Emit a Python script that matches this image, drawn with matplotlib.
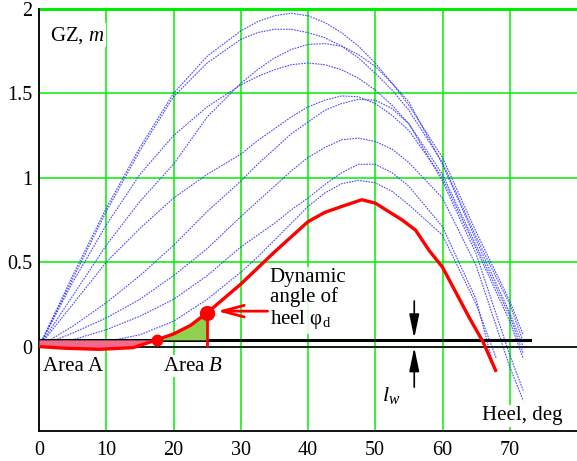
import matplotlib
matplotlib.use("Agg")
import matplotlib.pyplot as plt

plt.rcParams['font.family'] = ['Liberation Serif', 'DejaVu Serif']
plt.rcParams['mathtext.fontset'] = 'custom'
plt.rcParams['mathtext.rm'] = 'Liberation Serif'
plt.rcParams['mathtext.it'] = 'Liberation Serif:italic'
plt.rcParams['mathtext.bf'] = 'Liberation Serif:bold'

# GZ curves for the other loading conditions (blue, dotted)
blue_heel = [0, 5, 10, 15, 20, 25, 30, 32.5, 35, 37.5, 40, 42.5, 45, 47.5, 50, 52.5, 55, 60, 65]
blue_gz = [
    [0, 0.42, 0.82, 1.18, 1.50, 1.72, 1.87, 1.925, 1.96, 1.975, 1.96, 1.92, 1.86, 1.78, 1.68, 1.56, 1.43, 1.12, 0.68],
    [0, 0.40, 0.80, 1.16, 1.48, 1.68, 1.82, 1.86, 1.88, 1.88, 1.86, 1.83, 1.78, 1.71, 1.62, 1.52, 1.40, 1.09, 0.65],
    [0, 0.30, 0.60, 0.86, 1.08, 1.36, 1.56, 1.64, 1.71, 1.76, 1.79, 1.795, 1.78, 1.73, 1.66, 1.56, 1.45, 1.08, 0.63],
    [0, 0.38, 0.72, 1.02, 1.25, 1.42, 1.55, 1.60, 1.64, 1.67, 1.68, 1.67, 1.64, 1.59, 1.52, 1.43, 1.32, 1.02, 0.60],
    [0, 0.25, 0.50, 0.70, 0.88, 1.02, 1.14, 1.22, 1.29, 1.36, 1.42, 1.46, 1.485, 1.48, 1.44, 1.37, 1.28, 1.00, 0.58],
    [0, 0.12, 0.26, 0.42, 0.60, 0.80, 0.98, 1.08, 1.17, 1.26, 1.33, 1.40, 1.44, 1.465, 1.46, 1.41, 1.32, 0.98, 0.55],
    [0, 0.08, 0.17, 0.28, 0.42, 0.58, 0.77, 0.86, 0.95, 1.04, 1.12, 1.18, 1.225, 1.235, 1.215, 1.17, 1.09, 0.88, 0.48],
    [0, 0.04, 0.10, 0.18, 0.28, 0.42, 0.59, 0.66, 0.73, 0.81, 0.88, 0.96, 1.03, 1.08, 1.08, 1.03, 0.95, 0.71, 0.28],
    [0, 0.01, 0.03, 0.07, 0.15, 0.28, 0.44, 0.53, 0.63, 0.73, 0.83, 0.91, 0.965, 0.985, 0.97, 0.92, 0.84, 0.66, 0.25],
]
blue_tail_heel = [[70, 72], [70, 72], [70, 72], [70, 72], [70, 72],
                  [70, 72], [70, 72], [67.5], [68]]
blue_tail_gz = [[0.27, 0.07], [0.25, 0.03], [0.20, 0.0], [0.18, -0.04], [0.15, -0.07],
                [-0.05, -0.26], [-0.12, -0.32], [-0.10], [-0.07]]

# GZ curve of the case under study (red)
red_heel = [0, 4, 9, 14, 17.5, 20, 22.5, 25, 30, 35, 37.5, 40, 42.5, 45, 48, 50, 54, 56, 58,
            60, 64, 66, 68]
red_gz = [0, -0.01, -0.016, -0.006, 0.04, 0.075, 0.125, 0.2, 0.37, 0.56, 0.65, 0.74, 0.795,
          0.83, 0.87, 0.85, 0.75, 0.69, 0.57, 0.47, 0.17, 0.03, -0.15]

lw_level = 0.04      # heeling arm
lw_end = 73
phi_start = 17.5     # start of area B
phi_dyn = 25         # dynamic angle of heel

x_ticks = [0, 10, 20, 30, 40, 50, 60, 70]
y_ticks = [0, 0.5, 1, 1.5, 2]
y_tick_labels = ['0', '0.5', '1', '1.5', '2']

grid_green = '#00ee00'

fig = plt.figure(figsize=(5.77, 4.61), dpi=100)
ax = fig.add_axes([39 / 577, 30 / 461, 538 / 577, 422 / 461])
ax.set_xlim(0, 80)
ax.set_ylim(-0.5, 2)

ax.set_xticks(x_ticks)
ax.set_yticks(y_ticks)
ax.set_yticklabels(y_tick_labels)
ax.tick_params(length=0, labelsize=14.5)
ax.tick_params(axis='x', pad=7)
ax.tick_params(axis='y', pad=5)
ax.grid(True, color=grid_green, lw=1.1)
for side in ['top', 'right']:
    ax.spines[side].set_visible(False)
for side in ['left', 'bottom']:
    ax.spines[side].set_linewidth(1.3)
ax.axhline(2, color=grid_green, lw=2.2, clip_on=False, zorder=1.6)

# blue family
for gz, th, tg in zip(blue_gz, blue_tail_heel, blue_tail_gz):
    ax.plot(blue_heel + th, gz + tg, color='#2a2aff', lw=0.8,
            ls=(0, (1.5, 1)), alpha=0.85, zorder=2)

# zero and heeling arm lines
ax.axhline(0, color='#111111', lw=1.3, zorder=3)
ax.plot([0, lw_end], [lw_level, lw_level], color='black', lw=2.2, zorder=3)

# areas A and B
iA = red_heel.index(phi_start)
iB = red_heel.index(phi_dyn)
ax.fill_between(red_heel[:iA + 1], red_gz[:iA + 1], lw_level,
                color='#f06a8a', lw=0, zorder=3.5)
ax.fill_between(red_heel[iA:iB + 1], red_gz[iA:iB + 1], lw_level,
                color='#8fd14f', lw=0, zorder=3.5)

ax.plot(red_heel, red_gz, color='red', lw=2.4, zorder=4, solid_capstyle='butt')
ax.vlines(phi_dyn, 0, red_gz[iB], color='red', lw=2, zorder=4)
ax.plot([red_heel[iA]], [red_gz[iA]], 'o', color='red', ms=7.5, zorder=5)
ax.plot([red_heel[iB]], [red_gz[iB]], 'o', color='red', ms=10, zorder=5)

# texts
white = dict(facecolor='white', edgecolor='none', pad=1)
ax.text(1.7, 1.845, 'GZ, $m$', fontsize=15, va='center', bbox=white, zorder=6)
ax.text(0.65, -0.12, 'Area A', fontsize=15, va='center', bbox=white, zorder=6)
ax.text(18.5, -0.115, 'Area $B$', fontsize=15, va='center', bbox=white, zorder=6)
ax.text(65.8, -0.41, 'Heel, deg', fontsize=15, va='center', bbox=white, zorder=6)
ax.text(52.3, -0.29, '$l_w$', fontsize=16, ha='center', va='center', zorder=6)
ax.text(34.3, 0.28, 'Dynamic\nangle of\nheel φ$_\\mathrm{d}$', fontsize=15,
        va='center', linespacing=1.05, zorder=6,
        bbox=dict(facecolor=(1, 1, 1, 0.85), edgecolor='none', pad=2))

ax.annotate('', xy=(26.5, 0.21), xytext=(34.0, 0.21), zorder=6,
            arrowprops=dict(arrowstyle='->,head_length=1.3,head_width=0.35',
                            color='red', lw=2, shrinkA=0, shrinkB=0,
                            mutation_scale=12))
ax.annotate('', xy=(55.8, lw_level + 0.01), xytext=(55.8, 0.27), zorder=6,
            arrowprops=dict(arrowstyle='-|>,head_length=1.2,head_width=0.25',
                            color='black', lw=1.2, shrinkA=0, shrinkB=0,
                            mutation_scale=12))
ax.annotate('', xy=(55.8, -0.005), xytext=(55.8, -0.24), zorder=6,
            arrowprops=dict(arrowstyle='-|>,head_length=1.2,head_width=0.25',
                            color='black', lw=1.2, shrinkA=0, shrinkB=0,
                            mutation_scale=12))

fig.savefig('out.png', dpi=100)
